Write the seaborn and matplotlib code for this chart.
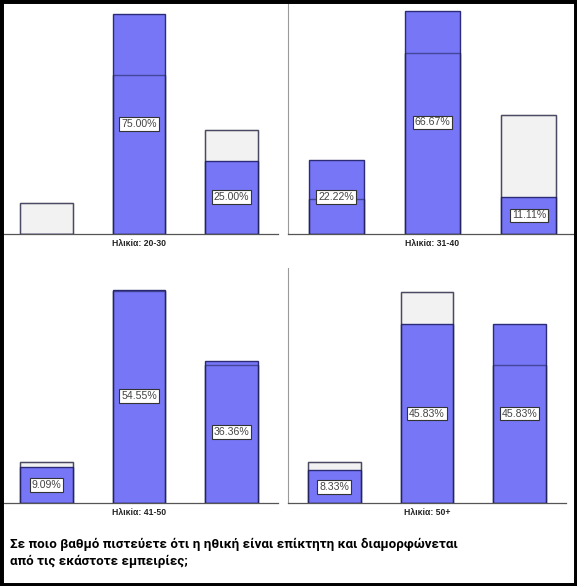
import matplotlib
matplotlib.use("Agg")
import matplotlib.pyplot as plt
import seaborn as sns
import pandas as pd
from matplotlib.patches import Rectangle

# ---------------- data ----------------
responses = ["Λίγο", "Αρκετά", "Πολύ"]          # response categories (not shown as ticks)
panel_titles = ["Ηλικία: 20-30", "Ηλικία: 31-40", "Ηλικία: 41-50", "Ηλικία: 50+"]
pct_20_30 = [0.00, 75.00, 25.00]
pct_31_40 = [22.22, 66.67, 11.11]
pct_41_50 = [9.09, 54.55, 36.36]
pct_50_plus = [8.33, 45.83, 45.83]
pct_overall = [10.42, 54.17, 35.42]            # whole-sample distribution (grey bars)
title = ("Σε ποιο βαθμό πιστεύετε ότι η ηθική είναι επίκτητη και διαμορφώνεται\n"
         "από τις εκάστοτε εμπειρίες;")

group_values = [pct_20_30, pct_31_40, pct_41_50, pct_50_plus]

# ---------------- style ----------------
sns.set_theme(style="white")
plt.rcParams['font.family'] = ['Liberation Sans', 'DejaVu Sans']

BLUE = "#7676f6"
NAVY = "#2b2b78"
GREY = "#f2f2f2"
GREY_EDGE = "#808080"

W, H = 577, 586
fig = plt.figure(figsize=(W / 100, H / 100), dpi=100, facecolor="white")


def px_axes(x0, y0, x1, y1):
    return fig.add_axes([x0 / W, 1 - y1 / H, (x1 - x0) / W, (y1 - y0) / H])


boxes = [(0, 3, 278, 234), (288, 3, 577, 234), (0, 268, 278, 503), (288, 268, 566, 503)]
ymax = [78.75, 69.0, 60.1, 60.2]

for k, (box, vals, ttl) in enumerate(zip(boxes, group_values, panel_titles)):
    ax = px_axes(*box)
    df = pd.DataFrame({"resp": responses, "overall": pct_overall, "group": vals})
    sns.barplot(data=df, x="resp", y="overall", color=GREY, saturation=1, width=0.57,
                edgecolor=GREY_EDGE, linewidth=1.0, ax=ax, zorder=1)
    sns.barplot(data=df, x="resp", y="group", color=BLUE, saturation=1, width=0.57,
                edgecolor=NAVY, linewidth=1.0, ax=ax, zorder=2)
    sns.barplot(data=df, x="resp", y="overall", color="black", fill=False, width=0.57,
                linewidth=1.0, ax=ax, zorder=3)
    for p in ax.patches[6:]:
        p.set_edgecolor((0.12, 0.12, 0.30, 0.55))
        p.set_facecolor("none")
        p.set_zorder(3)

    for i, v in enumerate(vals):
        if v > 0:
            ax.text(i, v / 2, f"{v:.2f}%", ha="center", va="center", fontsize=7.6,
                    color="#444444", zorder=6,
                    bbox=dict(boxstyle="square,pad=0.18", fc="white", ec="#333333", lw=0.8))

    ax.set_xlim(-0.5, 2.5)
    ax.set_ylim(0, ymax[k])
    ax.set_xticks([])
    ax.set_yticks([])
    ax.set_xlabel("")
    ax.set_ylabel("")
    ax.patch.set_alpha(0)
    for s in ["top", "right"]:
        ax.spines[s].set_visible(False)
    ax.spines["bottom"].set_color("#555555")
    ax.spines["bottom"].set_linewidth(0.9)
    if k % 2 == 1:
        ax.spines["left"].set_color("#9a9a9a")
        ax.spines["left"].set_linewidth(0.8)
    else:
        ax.spines["left"].set_visible(False)

    ax.annotate(ttl, xy=(0.5, 0), xycoords="axes fraction", xytext=(0, -6.5),
                textcoords="offset points", ha="center", va="center",
                fontsize=6.2, fontweight="bold", color="#222222")

fig.text(10 / W, 1 - 538 / H, title, ha="left", va="top", fontsize=9.6,
         fontweight="bold", color="black", linespacing=1.35,
         family=["Roboto", "DejaVu Sans"])

fig.patches.append(Rectangle((0, 0), 1, 1, transform=fig.transFigure, fill=False,
                             ec="black", lw=5.0, zorder=10))

fig.savefig("out.png", dpi=100)
